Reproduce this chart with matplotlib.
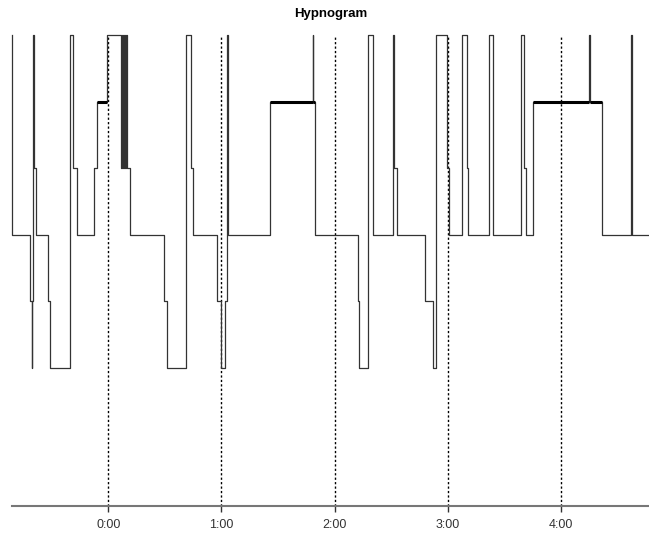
import matplotlib
matplotlib.use("Agg")
import matplotlib.pyplot as plt

# Stage onset times (minutes relative to 0:00) and stages
times = [-50.9, -50.8, -41.5, -40.6, -40.44, -39.75, -39.22, -38.48, -32.12, -30.9,
         -20.14, -18.87, -16.43, -7.42, -6.15, -0.85,
         6.73, 7.26, 7.79, 8.32, 8.85, 9.38, 9.91, 11.5,
         29.52, 30.95, 41.03, 43.83, 45.05, 57.77, 59.58, 61.86, 62.76, 63.6,
         85.71, 108.34, 108.66, 109.56,
         132.19, 133.04, 137.81, 140.46, 150.74, 151.27, 152.86, 167.86, 172.26, 173.54,
         179.37, 180.59, 187.32, 189.97, 190.82, 201.95, 204.07,
         218.91, 220.5, 221.24, 225.27, 255.06, 255.48, 261.52, 277.32, 277.74, 286.6]
stages = ['W', '2', '3', '4', '3', 'W', '1', '2', '3', '4',
          'W', '1', '2', '1', 'R', 'W',
          '1', 'W', '1', 'W', '1', 'W', '1', '2',
          '3', '4', 'W', '1', '2', '3', '4', '3', 'W', '2',
          'R', 'W', 'R', '2',
          '3', '4', 'W', '2', 'W', '1', '2', '3', '4', 'W',
          '1', '2', 'W', '1', '2', 'W', '2',
          'W', '1', '2', 'R', 'W', 'R', '2', 'W', '2', '2']
stage_levels = {'W': 7, 'R': 6, '1': 5, '2': 4, '3': 3, '4': 2}

tick_minutes = [0, 60, 120, 180, 240]
tick_labels = ['0:00', '1:00', '2:00', '3:00', '4:00']
title = 'Hypnogram'

levels = [stage_levels[s] for s in stages]

fig = plt.figure(figsize=(6.49, 5.50), dpi=100)
ax = fig.add_axes([12 / 649, 1 - 506 / 550, 1 - 12 / 649, (506 - 35) / 550])

for tm in tick_minutes:
    ax.axvline(tm, color='black', lw=1.0, ls=(0, (1.6, 1.6)), zorder=1)

ax.step(times, levels, where='post', color='#333333', lw=0.9, zorder=2,
        clip_on=False)

for i in range(len(stages) - 1):
    if stages[i] == 'R':
        ax.plot([times[i], times[i + 1]], [levels[i], levels[i]],
                color='black', lw=2.2, solid_capstyle='butt', zorder=3)

ax.set_xlim(-51.04, 286.6)
ax.set_ylim(-0.07, 7.0)
for side in ['left', 'right', 'top']:
    ax.spines[side].set_visible(False)
ax.spines['bottom'].set_color('#777777')
ax.spines['bottom'].set_linewidth(1.5)
ax.set_yticks([])
ax.set_xticks(tick_minutes)
ax.set_xticklabels(tick_labels, fontsize=9, color='#333333',
                   family=['Liberation Sans', 'DejaVu Sans'])
ax.tick_params(axis='x', length=4, width=1, color='#333333', pad=5)
ax.set_title(title, fontsize=9.5, fontweight='bold',
             family=['Liberation Sans', 'DejaVu Sans'], pad=13)

fig.savefig('out.png', dpi=100)
